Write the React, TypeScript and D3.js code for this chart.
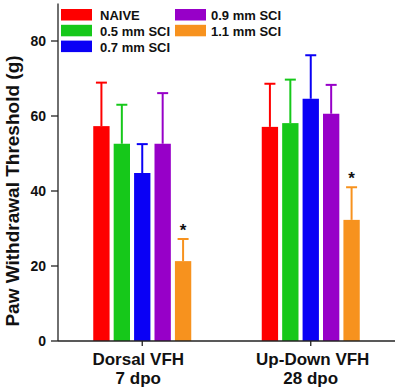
import React from "react";
import * as d3 from "d3";

const groups = ["Dorsal VFH", "Up-Down VFH"];
const groupSub = ["7 dpo", "28 dpo"];
const series = ["NAIVE", "0.5 mm SCI", "0.7 mm SCI", "0.9 mm SCI", "1.1 mm SCI"];
const colors = ["#fe0000", "#16c81a", "#0a00f5", "#9700c8", "#f7921e"];
const meansDorsal = [57.3, 52.6, 44.8, 52.6, 21.3];
const errDorsal = [11.6, 10.4, 7.7, 13.5, 5.9];
const meansUpDown = [57.1, 58.1, 64.6, 60.6, 32.3];
const errUpDown = [11.5, 11.6, 11.6, 7.7, 8.7];
const sigDorsal = [false, false, false, false, true];
const sigUpDown = [false, false, false, false, true];
const yTicks = [0, 20, 40, 60, 80];

const means = [meansDorsal, meansUpDown];
const errs = [errDorsal, errUpDown];
const sigs = [sigDorsal, sigUpDown];

const W = 400;
const H = 390;
const FONT = "'Liberation Sans', Arial, Helvetica, sans-serif";

export default function App() {
  const x0 = 58;
  const x1 = 395;
  const y = d3.scaleLinear().domain([0, 90]).range([341, 3.5]);
  const gx = d3.scalePoint<string>().domain(groups).range([x0, x1]).padding(0.5);
  const sx = d3.scaleBand<string>().domain(series).range([-49, 49]).paddingInner(0.2);
  const bw = sx.bandwidth();
  const cap = 11;

  const legendItems = series.map((s, i) => {
    const col = i < 3 ? 0 : 1;
    const row = i < 3 ? i : i - 3;
    return { s, i, col, row };
  });

  return (
    <svg width={W} height={H} style={{ position: "absolute", left: 0, top: 0 }} fontFamily={FONT}>
      <rect x={0} y={0} width={W} height={H} fill="#fff" />
      {/* bars */}
      {groups.map((g, gi) => (
        <g key={g} transform={`translate(${gx(g)},0)`}>
          {series.map((s, si) => {
            const v = means[gi][si];
            const e = errs[gi][si];
            const bx = sx(s)!;
            const cx = bx + bw / 2;
            return (
              <g key={s}>
                <rect x={bx} y={y(v)} width={bw} height={y(0) - y(v)} fill={colors[si]} />
                <line x1={cx} x2={cx} y1={y(v)} y2={y(v + e)} stroke={colors[si]} strokeWidth={2} />
                <line x1={cx - cap / 2} x2={cx + cap / 2} y1={y(v + e)} y2={y(v + e)} stroke={colors[si]} strokeWidth={2} />
                {sigs[gi][si] && (
                  <text x={cx} y={y(v + e) - 3} textAnchor="middle" fontSize={17} fontWeight="bold" fill="#111">
                    *
                  </text>
                )}
              </g>
            );
          })}
        </g>
      ))}
      {/* y axis */}
      <line x1={x0} x2={x0} y1={y(90)} y2={y(0)} stroke="#222" strokeWidth={1.3} />
      {yTicks.map((t) => (
        <g key={t}>
          <line x1={x0 - 7} x2={x0} y1={y(t)} y2={y(t)} stroke="#222" strokeWidth={1.3} />
          <text x={x0 - 12} y={y(t)} dy="0.36em" textAnchor="end" fontSize={14} fontWeight="bold" fill="#111">
            {t}
          </text>
        </g>
      ))}
      {/* x axis */}
      <line x1={x0} x2={x1} y1={y(0)} y2={y(0)} stroke="#222" strokeWidth={1.3} />
      {groups.map((g, gi) => (
        <g key={g}>
          <line x1={gx(g)} x2={gx(g)} y1={y(0)} y2={y(0) + 5} stroke="#222" strokeWidth={1.3} />
          <text x={gx(g)! - (gi === 0 ? 4 : -2)} y={365} textAnchor="middle" fontSize={17} fontWeight="bold" fill="#111">
            {g}
          </text>
          <text x={gx(g)! - (gi === 0 ? 4 : 0)} y={384} textAnchor="middle" fontSize={17} fontWeight="bold" fill="#111">
            {groupSub[gi]}
          </text>
        </g>
      ))}
      {/* y title */}
      <text
        transform={`translate(19,${191}) rotate(-90)`}
        textAnchor="middle"
        fontSize={19}
        fontWeight="bold"
        fill="#111"
      >
        Paw Withdrawal Threshold (g)
      </text>
      {/* legend */}
      {legendItems.map(({ s, i, col, row }) => {
        const lx = col === 0 ? 61 : 175;
        const ly = 9 + row * 15.8;
        return (
          <g key={s}>
            <rect x={lx} y={ly} width={31} height={11.5} fill={colors[i]} />
            <text x={lx + (col === 0 ? 39 : 36)} y={ly + 11} fontSize={13} fontWeight="bold" fill="#111">
              {s}
            </text>
          </g>
        );
      })}
    </svg>
  );
}
